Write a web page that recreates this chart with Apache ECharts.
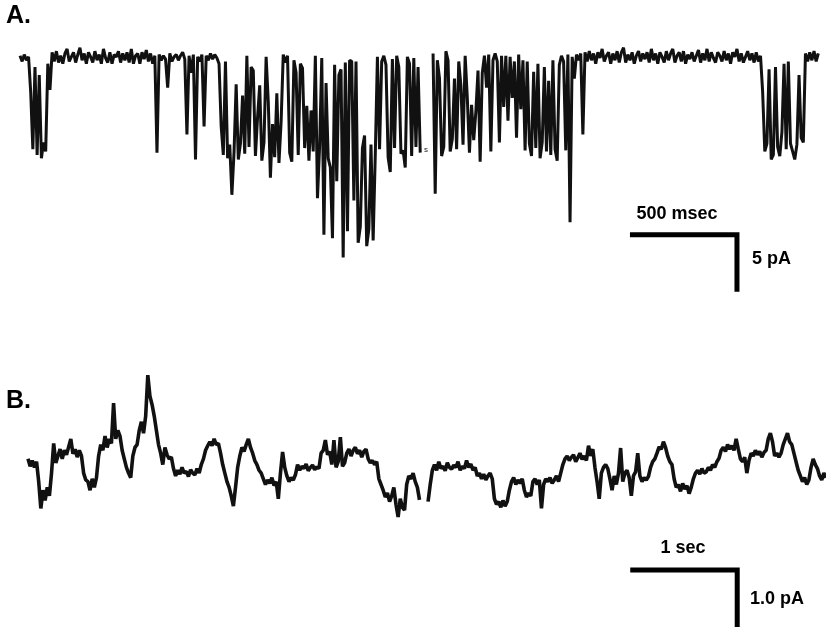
<!DOCTYPE html>
<html>
<head>
<meta charset="utf-8">
<script src="https://cdn.jsdelivr.net/npm/echarts@6/dist/echarts.min.js"></script>
<style>
  html, body { margin: 0; padding: 0; background: #fff; }
  #chart { width: 826px; height: 629px; }
</style>
</head>
<body>
<div id="chart"></div>
<script>
// A: single channel current, pA, one sample every 10 ms
var DT_A = 10;
var traceA = [
  // 0-14 first burst
  0.2,-0.3,0.3,-0.2,0.1,-3.0,-8.0,-0.8,-8.5,-1.5,-8.8,-7.4,-8.2,-0.5,-2.8,
  // 15-63 closed
  0.5,-0.3,0.6,-0.4,0.2,-0.5,0.4,0.8,-0.3,0.1,
  0.5,-0.4,0.3,0.9,-0.2,0.4,-0.5,0.5,0.1,-0.4,
  0.6,-0.2,0.3,-0.5,0.8,0.0,-0.4,0.5,-0.5,0.3,
  0.1,0.6,-0.4,0.4,-0.2,0.5,-0.4,0.8,-0.5,0.2,
  0.4,-0.5,0.5,-0.1,0.7,-0.3,0.4,-0.5,0.2,
  // 64-92 brief openings
  -8.3,0.3,-0.2,0.2,-0.1,-2.6,0.4,-0.3,0.1,0.3,
  -0.2,0.2,0.5,-0.1,-6.7,0.2,-1.3,0.3,-8.9,0.1,
  -0.3,0.3,-6.0,0.2,-0.2,0.4,-0.1,0.3,0.0,
  // 93-122 burst
  -0.5,-6.0,-8.5,-0.3,-8.8,-7.6,-12.0,-8.3,-2.3,-8.9,
  -7.5,-3.3,-8.4,0.2,-7.8,-0.8,-1.1,-8.6,-5.2,-2.4,
  -9.0,-7.4,0.1,-3.8,-10.5,-5.8,-8.7,-3.1,-9.2,-5.6,
  // 123-157
  0.3,-0.4,0.2,-8.3,-9.1,-0.2,-1.3,-8.5,-0.5,-0.9,
  -7.9,-4.2,-9.0,-4.6,-8.2,0.2,-12.3,-7.7,0.0,-15.5,
  -2.2,-8.8,-9.6,-15.8,-0.6,-10.8,-1.5,-1.0,-17.5,-0.4,
  -15.2,-0.2,-0.3,-12.5,-0.3,
  // 158-187 double level
  -16.2,-14.8,-7.9,-6.8,-16.5,-15.0,-7.6,-16.0,-8.5,0.1,
  -8.0,-0.3,0.2,-0.6,-8.7,-10.0,-0.1,-7.9,0.2,-0.8,
  -8.4,-8.1,-9.6,0.1,-0.5,-8.6,0.0,-7.8,-0.8,-8.3,
  // 188-192 break
  null,null,null,null,null,
  // 193-235
  0.4,-11.9,-0.2,-1.8,-8.6,-7.8,0.6,-0.2,-8.2,-7.1,
  -1.8,-8.0,-0.3,-2.4,-7.6,0.2,-3.5,-8.3,-4.1,-7.2,
  -4.7,-1.1,-9.1,-1.3,0.2,-2.6,0.3,-8.2,-0.2,0.4,
  -0.3,-7.4,0.2,-4.3,0.2,-5.5,0.1,-3.5,-0.3,-7.0,
  0.3,-4.5,-0.2,
  // 236-263
  -8.1,-0.3,-7.5,-8.6,-1.2,-7.9,-0.5,-8.8,-7.4,-0.8,
  -8.2,-2.0,-8.5,-0.2,-8.0,-9.0,-0.6,0.2,-0.3,-8.1,
  0.3,-14.4,0.1,-1.8,0.3,-0.2,0.4,-6.7,
  // 264-346 closed
  0.5,-0.3,0.6,-0.2,0.4,-0.5,0.5,0.0,0.8,-0.3,
  0.2,0.5,-0.5,0.4,-0.2,0.6,-0.4,0.5,0.9,-0.4,
  0.3,-0.2,0.5,-0.5,0.2,0.6,-0.3,0.4,-0.1,0.5,
  -0.4,0.8,-0.2,0.4,-0.5,0.5,0.1,-0.4,0.6,-0.2,
  0.4,0.8,-0.4,0.2,0.5,-0.3,0.6,-0.5,0.3,-0.1,
  0.5,-0.3,0.2,0.7,-0.4,0.4,-0.2,0.8,-0.3,0.5,
  0.0,-0.4,0.5,0.2,-0.3,0.6,-0.2,0.4,-0.5,0.5,
  0.1,0.8,-0.3,0.4,-0.4,0.1,0.6,-0.2,0.4,-0.4,
  0.5,-0.3,0.2,
  // 347-366 last burst
  -3.0,-8.2,-7.5,-1.0,-8.9,-8.5,-0.8,-7.8,-8.6,-6.5,
  -0.5,-8.0,-0.3,-7.5,-8.2,-8.9,-7.6,-1.5,-7.0,-7.4,
  // 367-373
  0.4,-0.3,0.5,-0.2,0.6,-0.3,0.4
];

// B: whole-cell noise, pA, one sample every 0.02 s
var DT_B = 0.02;
var traceB = [
  -0.05,-0.18,-0.08,-0.2,-0.1,-0.45,-0.92,-0.6,-0.78,-0.55,-0.7,-0.3,0.22,-0.12,
  0.0,0.12,-0.05,0.1,0.02,0.16,0.3,0.04,0.12,-0.02,0.1,0.0,
  -0.3,-0.42,-0.45,-0.6,-0.4,-0.55,-0.38,0.0,
  0.2,0.1,0.35,0.15,0.3,0.22,
  0.93,0.3,0.45,0.35,
  0.1,-0.05,-0.2,-0.3,-0.38,
  0.0,0.15,0.2,
  0.45,0.6,0.4,0.7,
  1.42,1.05,
  0.9,0.7,0.45,0.2,
  0.05,-0.15,0.15,0.02,-0.05,-0.02,
  -0.22,-0.35,-0.25,-0.32,-0.2,-0.3,-0.27,-0.36,-0.24,-0.3,-0.33,-0.22,-0.3,
  -0.15,-0.05,0.1,0.18,
  0.25,0.18,0.3,0.2,0.22,
  0.05,-0.15,-0.3,-0.45,-0.55,
  -0.7,-0.88,-0.55,
  -0.2,0.0,
  0.15,0.08,0.2,0.3,0.15,
  0.05,-0.08,-0.15,-0.25,-0.3,
  -0.4,-0.5,-0.42,-0.48,-0.38,-0.52,-0.45,
  -0.75,
  -0.3,0.07,-0.2,
  -0.35,-0.45,-0.38,-0.42,-0.33,
  -0.15,-0.25,-0.18,-0.22,-0.14,-0.26,-0.2,-0.16,-0.24,-0.19,-0.22,
  0.05,0.1,0.28,0.02,0.08,
  -0.15,0.28,-0.2,-0.1,0.33,-0.18,-0.12,
  0.05,0.12,0.0,0.1,0.15,0.04,0.1,-0.02,0.08,0.12,
  -0.05,-0.12,-0.08,-0.15,-0.1,
  -0.4,-0.5,
  -0.6,-0.72,-0.65,-0.8,-0.7,-0.55,-0.85,-1.07,-0.75,-0.9,
  -0.95,-0.5,-0.35,-0.4,
  -0.3,-0.45,-0.55,-0.77,
  null,null,null,
  -0.8,-0.5,-0.25,
  -0.15,-0.25,-0.1,-0.22,-0.18,-0.26,-0.12,-0.2,-0.23,-0.16,
  -0.2,-0.1,-0.25,-0.18,-0.22,-0.08,-0.2,-0.14,-0.25,-0.2,
  -0.35,-0.3,-0.4,-0.32,-0.42,-0.35,-0.3,-0.4,
  -0.75,-0.85,-0.8,-0.9,-0.78,-0.88,-0.8,
  -0.6,-0.45,-0.38,-0.5,-0.42,-0.48,-0.4,
  -0.6,-0.72,-0.65,-0.7,
  -0.45,-0.4,-0.5,-0.42,
  -0.92,
  -0.5,-0.4,-0.45,-0.38,-0.48,-0.42,-0.35,-0.45,
  -0.3,-0.15,-0.05,0.0,-0.08,-0.02,
  0.02,-0.1,-0.03,0.05,-0.06,0.0,-0.08,0.18,0.0,0.12,
  -0.2,-0.45,-0.75,
  -0.3,-0.2,-0.15,-0.22,
  -0.4,-0.6,-0.35,-0.5,-0.3,0.14,-0.45,
  -0.3,-0.25,-0.38,-0.7,-0.35,-0.28,0.05,
  -0.35,-0.45,-0.38,-0.42,-0.36,
  -0.2,-0.1,-0.05,0.05,
  0.16,0.12,0.25,0.15,
  0.0,-0.1,-0.15,
  -0.4,-0.55,-0.5,-0.62,-0.48,-0.58,-0.52,-0.66,-0.55,
  -0.4,-0.3,-0.25,-0.32,-0.22,-0.3,-0.28,-0.2,
  -0.25,-0.15,-0.2,-0.1,-0.04,
  0.1,0.15,0.08,0.2,0.12,0.18,0.1,0.3,0.12,
  -0.05,-0.1,-0.02,-0.3,-0.08,
  0.05,0.0,0.1,0.02,0.08,-0.02,0.06,0.1,
  0.3,0.4,0.25,
  0.0,0.05,-0.02,0.05,
  0.2,0.3,0.4,0.25,0.2,
  0.05,-0.1,-0.25,-0.35,
  -0.45,-0.38,-0.5,-0.42,
  -0.2,-0.05,-0.15,-0.22,
  -0.35,-0.42,-0.3,-0.38
];

// scale bars: [start time, length] and [level, height]
var barA_x = [2850, 500];   // 500 msec
var barA_y = [-15.5, 5];    // 5 pA
var barB_x = [5.63, 1];     // 1 sec
var barB_y = [-2, 1];       // 1.0 pA

var FONT = '"Liberation Sans", Arial, sans-serif';

function toPoints(values, dt) {
    var pts = [];
    for (var i = 0; i < values.length; i++) {
        pts.push([i * dt, values[i]]);
    }
    return pts;
}

function barPoints(bx, by) {
    return [[bx[0], by[0]], [bx[0] + bx[1], by[0]], [bx[0] + bx[1], by[0] - by[1]]];
}

var chart = echarts.init(document.getElementById('chart'), null, { renderer: 'canvas' });

var hiddenAxis = { show: false, splitLine: { show: false } };

chart.setOption({
    backgroundColor: '#ffffff',
    animation: false,
    grid: [
        { left: 20, top: 1, width: 806, height: 296.4 },
        { left: 28, top: 342, width: 798, height: 285 }
    ],
    xAxis: [
        Object.assign({ type: 'value', gridIndex: 0, min: 0, max: 3766 }, hiddenAxis),
        Object.assign({ type: 'value', gridIndex: 1, min: 0, max: 7.46 }, hiddenAxis)
    ],
    yAxis: [
        Object.assign({ type: 'value', gridIndex: 0, min: -21, max: 5 }, hiddenAxis),
        Object.assign({ type: 'value', gridIndex: 1, min: -3, max: 2 }, hiddenAxis)
    ],
    series: [
        {
            type: 'line', xAxisIndex: 0, yAxisIndex: 0,
            data: toPoints(traceA, DT_A),
            showSymbol: false, connectNulls: false, sampling: null,
            lineStyle: { color: '#111', width: 3, join: 'bevel' }
        },
        {
            type: 'line', xAxisIndex: 1, yAxisIndex: 1,
            data: toPoints(traceB, DT_B),
            showSymbol: false, connectNulls: false,
            lineStyle: { color: '#111', width: 3.6, join: 'bevel' }
        },
        {
            type: 'line', xAxisIndex: 0, yAxisIndex: 0,
            data: barPoints(barA_x, barA_y),
            showSymbol: false, clip: false,
            lineStyle: { color: '#000', width: 5, join: 'miter' }
        },
        {
            type: 'line', xAxisIndex: 1, yAxisIndex: 1,
            data: barPoints(barB_x, barB_y),
            showSymbol: false, clip: false,
            lineStyle: { color: '#000', width: 5, join: 'miter' }
        }
    ],
    graphic: [
        { type: 'text', style: { x: 6, y: 16.5, text: 'A.', font: 'bold 25px ' + FONT, fill: '#000', textVerticalAlign: 'middle' } },
        { type: 'text', style: { x: 6, y: 401.5, text: 'B.', font: 'bold 25px ' + FONT, fill: '#000', textVerticalAlign: 'middle' } },
        { type: 'text', style: { x: 677, y: 214, text: '500 msec', font: 'bold 18px ' + FONT, fill: '#000', textAlign: 'center', textVerticalAlign: 'middle' } },
        { type: 'text', style: { x: 752, y: 259, text: '5 pA', font: 'bold 18px ' + FONT, fill: '#000', textVerticalAlign: 'middle' } },
        { type: 'text', style: { x: 683, y: 548.5, text: '1 sec', font: 'bold 18px ' + FONT, fill: '#000', textAlign: 'center', textVerticalAlign: 'middle' } },
        { type: 'text', style: { x: 750, y: 599.5, text: '1.0 pA', font: 'bold 18px ' + FONT, fill: '#000', textVerticalAlign: 'middle' } },
        { type: 'text', style: { x: 424, y: 150, text: 's', font: '8px ' + FONT, fill: '#222', textVerticalAlign: 'middle' } }
    ]
});
</script>
</body>
</html>
